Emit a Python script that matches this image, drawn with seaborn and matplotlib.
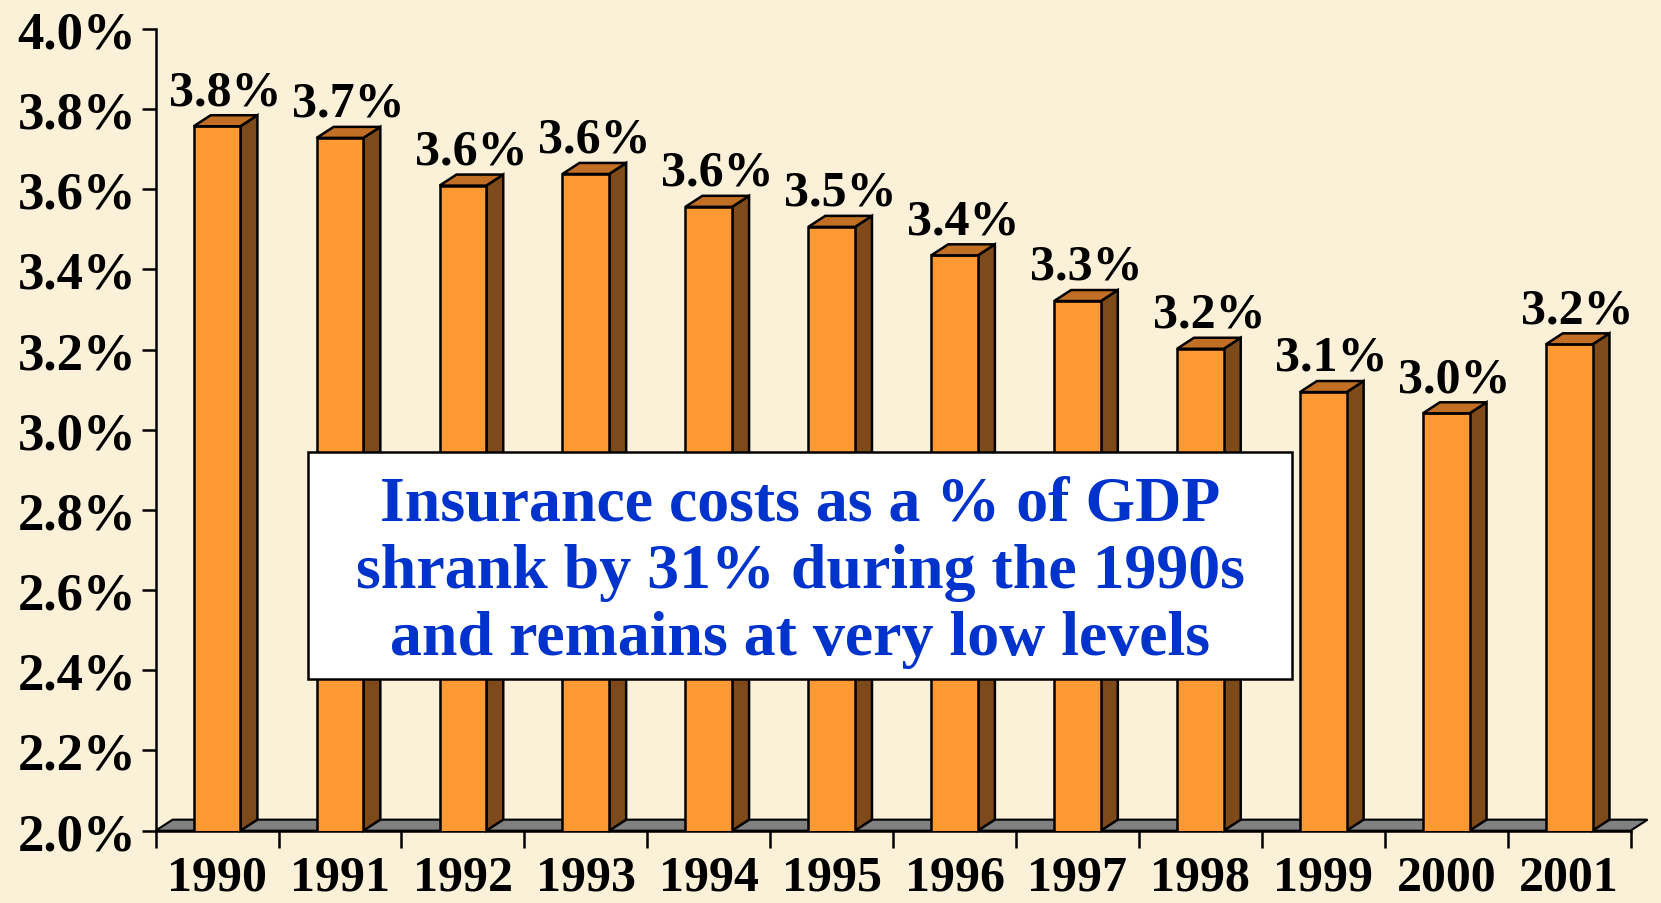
import matplotlib
matplotlib.use("Agg")
import matplotlib.pyplot as plt
import matplotlib.patches as mpatches
import seaborn as sns
import pandas as pd

years = ["1990", "1991", "1992", "1993", "1994", "1995",
         "1996", "1997", "1998", "1999", "2000", "2001"]
cost_pct = [3.757, 3.728, 3.609, 3.638, 3.556, 3.506,
            3.435, 3.321, 3.202, 3.094, 3.041, 3.213]
y_ticks = [2.0, 2.2, 2.4, 2.6, 2.8, 3.0, 3.2, 3.4, 3.6, 3.8, 4.0]
note = ("Insurance costs as a % of GDP\n"
        "shrank by 31% during the 1990s\n"
        "and remains at very low levels")

df = pd.DataFrame({"year": years, "pct": cost_pct})

BG = "#FBF0D8"
FRONT = "#FF9933"
SIDE = "#7F4A1A"
TOP = "#C26F26"
FLOOR = "#808080"
SERIF = ["Liberation Serif", "DejaVu Serif"]

sns.set_theme(style="white")
plt.rcParams["font.family"] = SERIF
plt.rcParams["font.weight"] = "bold"

fig = plt.figure(figsize=(16.61, 9.04), dpi=100, facecolor=BG)
ax = fig.add_axes([0.0937, 0.080, 0.888, 0.887])
ax.set_facecolor(BG)

bar_w = 0.38
dx, dy = 0.138, 0.0275  # 3d depth offset in data units

# grey floor
floor = mpatches.Polygon([(-0.5, 2.0), (11.5, 2.0), (11.5 + dx, 2.0 + dy), (-0.5 + dx, 2.0 + dy)],
                         closed=True, facecolor=FLOOR, edgecolor="black", lw=1.5,
                         clip_on=False, zorder=1)
ax.add_patch(floor)

sns.barplot(data=df, x="year", y="pct", ax=ax, color=FRONT, saturation=1,
            width=bar_w, edgecolor="black", linewidth=1.8, zorder=3)
ax.set_ylim(2.0, 4.0)
ax.set_xlim(-0.5, 11.5)

for bar in ax.patches[1:]:
    x0 = bar.get_x()
    x1 = x0 + bar.get_width()
    top = bar.get_height()
    bot = 2.0
    side = mpatches.Polygon([(x1, bot), (x1 + dx, bot + dy), (x1 + dx, top + dy), (x1, top)],
                            closed=True, facecolor=SIDE, edgecolor="black", lw=1.8,
                            zorder=2.9, clip_on=False)
    lid = mpatches.Polygon([(x0, top), (x1, top), (x1 + dx, top + dy), (x0 + dx, top + dy)],
                           closed=True, facecolor=TOP, edgecolor="black", lw=1.8,
                           zorder=3.1, clip_on=False)
    ax.add_patch(side)
    ax.add_patch(lid)
    ax.annotate(f"{top:.1f}%", (x0 + (bar.get_width() + dx) / 2, top + dy),
                xytext=(0, 8), textcoords="offset points", ha="center", va="baseline",
                fontsize=36, fontweight="bold", family=SERIF, color="black",
                zorder=5, annotation_clip=False)

sns.despine(ax=ax)
ax.spines["left"].set_linewidth(1.8)
ax.spines["bottom"].set_linewidth(1.8)
ax.spines["left"].set_color("black")
ax.spines["bottom"].set_color("black")

ax.set_yticks(y_ticks)
ax.set_yticklabels([f"{t:.1f}%" for t in y_ticks])
ax.tick_params(axis="y", direction="out", length=10, width=1.8, color="black",
               labelsize=38, pad=4, left=True)

# ticks between categories, labels at centres
ax.set_xticks([i - 0.5 for i in range(len(years) + 1)])
ax.set_xticklabels([])
ax.set_xticks(range(len(years)), minor=True)
ax.tick_params(axis="x", which="major", direction="out", length=12, width=1.8,
               color="black", bottom=True)
ax.set_xticklabels(years, minor=True)
ax.tick_params(axis="x", which="minor", length=0, labelsize=36, pad=17)
ax.set_xlabel("")
ax.set_ylabel("")
for lab in ax.get_xticklabels(minor=True) + ax.get_yticklabels():
    lab.set_fontweight("bold")
    lab.set_color("black")

# note box
box = mpatches.Rectangle((0.1854, 0.2478), 0.5924, 0.2511, transform=fig.transFigure,
                         facecolor="white", edgecolor="black", lw=1.8, zorder=10)
fig.patches.append(box)
fig.text(0.4817, 0.366, note, ha="center", va="center", fontsize=46,
         fontweight="bold", color="#0033CC", family=SERIF, linespacing=1.21,
         zorder=11)

fig.savefig("out.png", dpi=100, facecolor=BG)
